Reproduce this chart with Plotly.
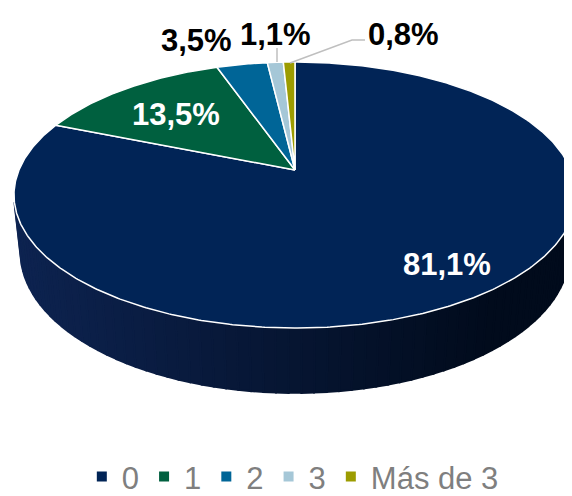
import math
import numpy as np
import plotly.graph_objects as go

# ---- data ----
categories = ["0", "1", "2", "3", "Más de 3"]
values = [81.1, 13.5, 3.5, 1.1, 0.8]
colors = ["#012456", "#00603f", "#006597", "#a5c7d7", "#9c9c00"]
label_colors = ["white", "white", "black", "black", "black"]
label_pos = [(447, 264), (176, 114), (196, 40), (275, 34), (403, 34)]

# ---- perspective geometry (layout) ----
W, H = 572, 496
OFF = 8  # page body margin compensation
CX, CY = 295.0, 170.0
ELEV = math.radians(27.7)
DIST = 4.71
FOC = 1300.0
DEPTH = 0.237


def proj(theta_deg, r=1.0, z=0.0):
    t = np.radians(theta_deg)
    u = r * np.sin(t)
    v = r * np.cos(t)
    zc = DIST + v * math.cos(ELEV) - z * math.sin(ELEV)
    x = CX + FOC * u / zc
    y = CY - FOC * (v * math.sin(ELEV) + z * math.cos(ELEV)) / zc
    return x, y


fig = go.Figure()

# ---- side wall (front, visible part) with horizontal shading ----
vis = math.degrees(math.acos(-1.0 / (DIST * math.cos(ELEV))))
th = np.linspace(vis, 360 - vis, 70)
xt, yt = proj(th)
xb, yb = proj(th, z=-DEPTH)
xmin, xmax = xt.min(), xt.max()
c_left = np.array([13, 35, 80])
c_right = np.array([1, 11, 28])
for i in range(len(th) - 1):
    xm = (xt[i] + xt[i + 1]) / 2
    t = (xm - xmin) / (xmax - xmin)
    t = min(max(t / 0.85, 0), 1)
    c = c_left + (c_right - c_left) * t
    col = "rgb(%d,%d,%d)" % tuple(int(round(a)) for a in c)
    fig.add_trace(go.Scatter(
        x=[xt[i], xt[i + 1], xb[i + 1], xb[i], xt[i]],
        y=[yt[i], yt[i + 1], yb[i + 1], yb[i], yt[i]],
        mode="lines", fill="toself", fillcolor=col,
        line=dict(color=col, width=2),
        hoverinfo="skip", showlegend=False))

# ---- top face slices ----
total = sum(values)
start = 0.0
for cat, val, col in zip(categories, values, colors):
    span = 360.0 * val / total
    n = max(int(span * 2), 4)
    ang = np.linspace(start, start + span, n)
    ax, ay = proj(ang)
    xs = [CX] + list(ax) + [CX]
    ys = [CY] + list(ay) + [CY]
    fig.add_trace(go.Scatter(
        x=xs, y=ys, mode="lines", fill="toself", fillcolor=col,
        line=dict(color="white", width=1.5),
        name=cat, hoverinfo="name", showlegend=False))
    start += span

# ---- legend entries ----
for cat, col in zip(categories, colors):
    fig.add_trace(go.Scatter(
        x=[None], y=[None], mode="markers", name=cat,
        marker=dict(symbol="square", size=10, color=col)))

# ---- labels ----
for val, (lx, ly), lc in zip(values, label_pos, label_colors):
    fig.add_annotation(
        x=lx, y=ly, xref="x", yref="y", showarrow=False,
        text=("%.1f" % val).replace(".", ",") + "%",
        font=dict(family="Liberation Sans, Arial", size=31, color=lc,
                  weight="bold"))

# leader lines
fig.add_shape(type="line", x0=277, y0=62, x1=277, y1=48,
              line=dict(color="#bfbfbf", width=1.5))
fig.add_shape(type="path", path="M 290 63 L 352 40 L 365 40",
              line=dict(color="#bfbfbf", width=1.5))

fig.update_xaxes(range=[OFF, W], visible=False, fixedrange=True)
fig.update_yaxes(range=[H, OFF], visible=False, fixedrange=True)
fig.update_layout(
    width=W - OFF, height=H - OFF,
    margin=dict(l=0, r=0, t=0, b=0, autoexpand=False),
    paper_bgcolor="white", plot_bgcolor="white",
    legend=dict(orientation="h", x=0.505, xanchor="center", y=-0.016,
                yanchor="bottom", font=dict(family="Liberation Sans, Arial",
                                            size=31, color="#7f7f7f"),
                bgcolor="rgba(0,0,0,0)"),
)

fig.write_html("out.html")
